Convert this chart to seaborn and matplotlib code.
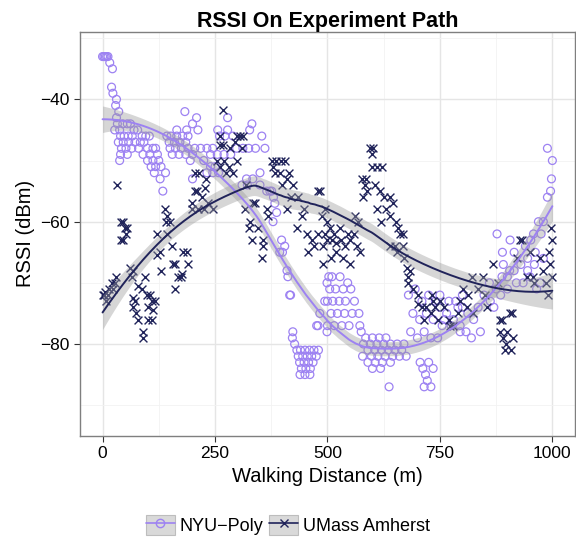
import numpy as np
import pandas as pd
import matplotlib
matplotlib.use("Agg")
import matplotlib.pyplot as plt
from matplotlib.lines import Line2D
from matplotlib.patches import Patch
import seaborn as sns

# NYU-Poly readings (walking distance in m, RSSI in dBm)
nyu_x = [0, 3, 6, 9, 12, 16, 22, 20, 23, 29, 31, 36, 31, 27, 33,
         38, 45, 55, 62, 70, 40, 48, 57, 66, 78, 88, 96, 104, 35, 46, 58, 72, 84, 92,
         42, 52, 65, 80, 100, 112, 118, 40, 55, 90, 105, 122, 38, 100, 112, 125,
         108, 118, 130, 115, 140, 128, 134,
         143, 152, 165, 178, 190, 148, 160, 172, 185, 150, 162, 175, 190, 205, 218, 232, 245,
         165, 187, 212, 256, 278, 183, 209, 200, 278, 332, 327, 354, 260, 272, 290,
         155, 170, 185, 200, 240, 255, 270, 285, 298, 312, 325, 340, 361, 195, 225, 240, 250,
         232, 245, 258, 350, 334, 320, 200, 310, 322, 350, 365, 372, 380, 376,
         383, 387, 379, 398, 405, 394, 400, 410, 412, 416, 418, 423, 422, 427,
         432, 440, 450, 460, 470, 480, 435, 445, 455, 465, 475, 438, 448, 458, 468,
         442, 452, 462, 439, 450, 461, 483, 479, 476, 499, 500, 494, 499,
         503, 510, 528, 545, 505, 518, 535, 552, 500, 512, 526, 540, 560, 508, 522, 538, 555, 570,
         515, 532, 548, 572, 575, 585, 600, 615, 630, 580, 595, 610, 625, 640, 655, 670,
         590, 605, 620, 635, 650, 665, 578, 598, 612, 628, 645, 660, 675, 590, 606, 622, 640,
         600, 618, 637, 706, 712, 718, 722, 730, 715, 735, 725,
         680, 695, 710, 725, 740, 690, 705, 720, 735, 750, 685, 700, 715, 730, 745, 755, 765,
         770, 780, 790, 795, 750, 760, 775,
         785, 800, 812, 825, 840, 795, 808, 820, 835, 848, 860, 862, 875, 888, 900, 915, 930,
         945, 960, 870, 885, 900, 920, 935, 950, 965, 940, 952, 962, 975, 980, 945, 958,
         877, 906, 889, 915, 891, 905, 973, 969, 980, 989, 996, 998, 1000, 989, 800]
nyu_y = [-33, -33, -33, -33, -33, -34, -35, -38, -39, -41, -40, -42, -43, -45, -44,
         -45, -44, -44, -44, -45, -46, -46, -46, -46, -45, -46, -46, -46, -47, -47, -47, -47, -47, -47,
         -48, -48, -48, -48, -48, -48, -48, -49, -49, -49, -49, -49, -50, -50, -50, -50,
         -51, -51, -51, -52, -52, -53, -55,
         -46, -46, -46, -46, -46, -47, -47, -47, -47, -48, -48, -48, -48, -48, -48, -48, -48,
         -45, -45, -45, -45, -45, -42, -43, -44, -43, -44, -45, -46, -46, -46, -46,
         -49, -49, -49, -49, -49, -49, -49, -49, -48, -48, -48, -48, -48, -50, -50, -51, -51,
         -52, -52, -52, -52, -53, -53, -53, -54, -54, -54, -55, -55, -56, -55,
         -57, -58.5, -60, -63, -64, -65, -65, -68, -69, -72, -72, -78, -79, -80,
         -81, -81, -81, -81, -81, -81, -82, -82, -82, -82, -82, -83, -83, -83, -83,
         -84, -84, -84, -85, -85, -85, -75, -77, -77, -78, -77, -73, -70,
         -69, -69, -69, -70, -71, -71, -71, -71, -73, -73, -73, -73, -73, -75, -75, -75, -75, -75,
         -77, -77, -77, -77, -78, -79, -79, -79, -79, -80, -80, -80, -80, -80, -80, -80,
         -81, -81, -81, -81, -81, -81, -82, -82, -82, -82, -82, -82, -82, -83, -83, -83, -83,
         -84, -84, -87, -83, -84, -85, -86, -87, -87, -84, -83,
         -72, -71, -73, -72, -73, -75, -76, -75, -76, -74, -78, -79, -78, -79, -79, -77, -75,
         -73, -76, -74, -78, -72, -76, -77,
         -73, -74, -75, -76, -78, -77, -78, -79, -74, -72, -70, -73, -71, -69, -69, -68, -67,
         -68, -67, -74, -72, -71, -70, -70, -69, -71, -64, -63, -65, -62, -66, -66, -62,
         -62, -63, -65, -65, -67, -68, -70, -60, -60, -56, -55, -53, -50, -48, -72]

# UMass Amherst readings
uma_x = [0, 3, 6, 11, 15, 20, 27, 31, 24, 8, 33, 42, 45, 50, 53, 55, 45, 42, 60, 67, 65, 94,
         78, 67, 72, 87, 98, 105, 110, 116, 102, 112, 67, 74, 78, 100, 109, 89, 89,
         138, 143, 149, 140, 122, 143, 120, 127, 131, 154, 156, 160, 167, 174, 160, 178, 187,
         189, 176, 198, 198, 205, 210, 227, 231, 205, 215, 222, 235, 245, 212, 225,
         267, 260, 300, 306, 312, 260, 267, 283, 295, 310, 254, 270, 282, 290, 275, 262, 298,
         320, 316, 339, 334, 327, 325, 345, 332, 356, 356, 354, 365, 367,
         376, 386, 396, 405, 383, 395, 410, 423, 400, 415, 378, 410, 434, 443, 448, 432, 420,
         479, 488, 454, 465, 478, 490, 470, 457, 490, 494, 483,
         500, 510, 520, 530, 540, 550, 505, 515, 528, 545, 560, 498, 508, 520, 535, 550, 565,
         561, 568, 572, 495,
         595, 601, 598, 599, 610, 621, 577, 583, 588, 579, 585, 606, 617, 625, 640, 646, 610,
         630, 640, 620, 652, 657, 661, 668, 640, 650, 668, 655, 677, 680, 670, 680, 690, 701, 684,
         701, 710, 720, 730, 740, 746, 715, 735, 733, 750, 760, 770, 780, 773, 790, 795, 802,
         812, 824, 810, 822, 846, 835, 850, 855, 869, 880, 884, 889, 905, 911, 884, 891, 896,
         900, 907, 895, 913, 922, 933, 929, 943, 957, 951, 960, 973, 980, 985, 990, 996, 1000,
         995, 1000, 992]
uma_y = [-72, -72, -71.5, -72, -71, -70, -70, -69, -71, -73, -54, -60, -60, -61, -62, -61, -63, -63,
         -67.5, -68, -69, -69, -70.5, -72.4, -73, -71, -72, -72, -73, -73, -74, -74.5, -74, -75,
         -76, -76, -76, -78, -79,
         -58, -59, -60, -60, -62, -62, -65.5, -65, -68, -64, -67, -67, -69, -69, -71, -65, -65,
         -67, -68.5, -58, -57, -55, -55, -54.5, -53, -52, -52, -56, -57, -58, -58, -58,
         -41.8, -46, -46, -46, -46, -47.5, -47.5, -48, -47, -48, -50, -50, -51, -52, -52, -51, -50,
         -54, -58, -57, -57, -60, -61, -61, -63, -63, -64, -66, -58, -59,
         -50, -50, -50, -50, -52, -52, -53, -54, -54, -52, -51, -58, -56, -59, -58, -61, -56,
         -55, -59, -62, -63, -62, -64, -64, -65, -67, -62, -55,
         -63, -63, -63.5, -63, -64, -63, -61, -62, -61, -62, -62, -60, -66, -65, -66, -67, -64,
         -59, -60, -65, -58,
         -48, -48, -49, -51, -51, -51, -53, -54, -55, -56, -53, -54, -55, -56, -56, -57, -58,
         -58, -59, -60, -60, -61, -62, -62, -64, -64, -64, -65, -67.5, -69, -66, -70, -71, -72, -68,
         -73.5, -74, -74, -75, -74, -76, -76, -73, -72, -73, -74, -76, -77, -77, -75, -73, -71,
         -72, -75, -74, -69, -69, -71, -72, -74, -67, -70, -76, -76, -75, -75, -78, -79, -80,
         -78, -81, -81, -79, -66, -63, -63, -69, -69, -65, -70, -66, -68, -70, -72, -61, -63,
         -67, -69, -65]

series_names = ["NYU\u2212Poly", "UMass Amherst"]
series_colors = ["#9d82f2", "#20235a"]
series_markers = ["o", "x"]


def loess(x, y, grid, span=0.75):
    # local quadratic fit with tricube weights, like R's default loess
    x = np.asarray(x, float)
    y = np.asarray(y, float)
    n = len(x)
    k = int(np.ceil(span * n))

    def rows(points):
        out = []
        for x0 in points:
            d = np.abs(x - x0)
            h = np.sort(d)[k - 1]
            w = np.clip(1 - (d / h) ** 3, 0, None) ** 3
            u = (x - x0) / 100.0
            X = np.column_stack([np.ones(n), u, u ** 2])
            W = X * w[:, None]
            out.append(np.linalg.solve(X.T @ W, W.T)[0])
        return np.array(out)

    L = rows(x)
    resid = y - L @ y
    M = np.eye(n) - L
    sigma = np.sqrt(resid @ resid / np.trace(M.T @ M))
    G = rows(grid)
    fit = G @ y
    se = sigma * np.sqrt((G ** 2).sum(axis=1))
    return fit, se


frames = []
for name, xs, ys in [(series_names[0], nyu_x, nyu_y), (series_names[1], uma_x, uma_y)]:
    frames.append(pd.DataFrame({"dist": xs, "rssi": ys, "site": name}))
df = pd.concat(frames, ignore_index=True)

sns.set_style("white")
plt.rcParams["font.family"] = ["Liberation Sans", "DejaVu Sans"]
plt.rcParams["text.color"] = "black"
plt.rcParams["axes.labelcolor"] = "black"

fig = plt.figure(figsize=(5.76, 5.44), dpi=100)
ax = fig.add_axes([0.139, 0.199, 0.859, 0.742])

for name, color, marker in zip(series_names, series_colors, series_markers):
    sub = df[df.site == name]
    if marker == "o":
        sns.scatterplot(data=sub, x="dist", y="rssi", ax=ax, marker="o", s=32,
                        facecolors="none", edgecolor=color, linewidth=0.9, zorder=3)
    else:
        sns.scatterplot(data=sub, x="dist", y="rssi", ax=ax, marker="x", s=32,
                        color=color, linewidth=1.0, zorder=3)

grid_x = np.linspace(0, 1000, 200)
for name, color in zip(series_names, series_colors):
    sub = df[df.site == name]
    fit, se = loess(sub.dist.values, sub.rssi.values, grid_x)
    ax.fill_between(grid_x, fit - 1.97 * se, fit + 1.97 * se, color="#999999",
                    alpha=0.4, linewidth=0, zorder=4)
    sns.lineplot(x=grid_x, y=fit, ax=ax, color=color, linewidth=1.4, zorder=5)

ax.set_xlim(-50, 1050)
ax.set_ylim(-95, -29)
ax.set_xticks([0, 250, 500, 750, 1000])
ax.set_yticks([-80, -60, -40])
ax.set_xticks([125, 375, 625, 875], minor=True)
ax.set_yticks([-90, -70, -50, -30], minor=True)
ax.grid(True, which="major", color="#e5e5e5", linewidth=1.0)
ax.grid(True, which="minor", color="#f2f2f2", linewidth=0.6)
ax.set_axisbelow(True)
for sp in ax.spines.values():
    sp.set_color("#7f7f7f")
    sp.set_linewidth(1.0)
ax.tick_params(axis="both", which="major", length=4, width=0.8, color="#333333",
               labelsize=12.5, labelcolor="black", direction="out", bottom=True, left=True)
ax.tick_params(axis="both", which="minor", length=0)

ax.set_xlabel("Walking Distance (m)", fontsize=14.5)
ax.set_ylabel("RSSI (dBm)", fontsize=14.5)
ax.set_title("RSSI On Experiment Path", fontsize=15.5, fontweight="bold", pad=4)

handles = []
for color, marker in zip(series_colors, series_markers):
    bg = Patch(facecolor="#d9d9d9", edgecolor="#bdbdbd", linewidth=0.8)
    if marker == "o":
        ln = Line2D([], [], color=color, linewidth=1.2, marker="o", markersize=6,
                    markerfacecolor="none", markeredgecolor=color)
    else:
        ln = Line2D([], [], color=color, linewidth=1.2, marker="x", markersize=6)
    handles.append((bg, ln))
fig.legend(handles, series_names, loc="center", bbox_to_anchor=(0.5, 0.035), ncol=2,
           frameon=False, fontsize=13, handlelength=1.6, handleheight=1.3,
           handletextpad=0.3, columnspacing=0.3, borderaxespad=0)

fig.savefig("out.png", dpi=100)
